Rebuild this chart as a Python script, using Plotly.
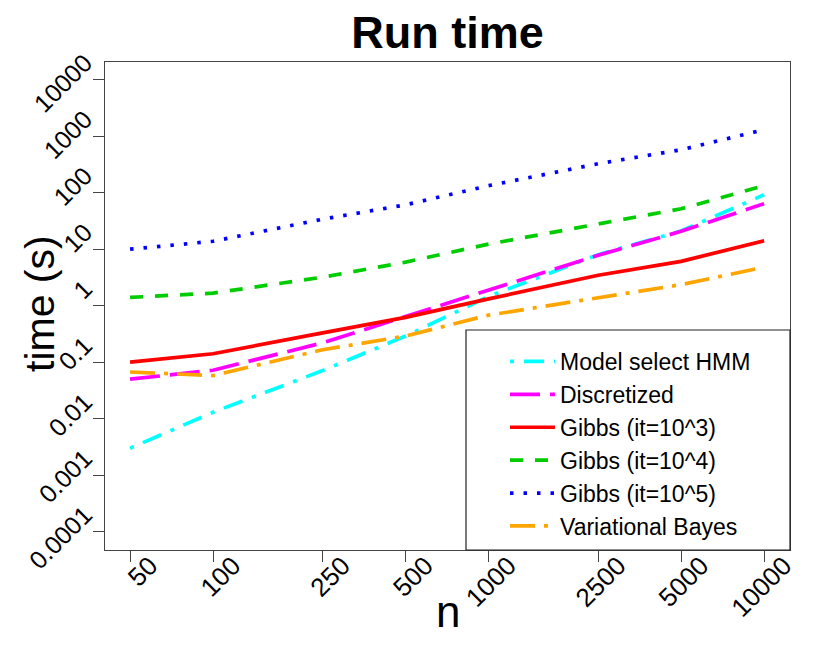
import plotly.graph_objects as go

# ---- data ----
n_vals = [50, 100, 250, 500, 1000, 2500, 5000, 10000]
x_tick_labels = ["50", "100", "250", "500", "1000", "2500", "5000", "10000"]
y_tick_vals = [1e-4, 1e-3, 1e-2, 1e-1, 1, 10, 100, 1000, 10000]
y_tick_labels = ["0.0001", "0.001", "0.01", "0.1", "1", "10", "100", "1000", "10000"]

model_select_hmm = [0.003, 0.013, 0.071, 0.29, 1.46, 8.0, 21, 92]
discretized = [0.05, 0.072, 0.22, 0.65, 1.9, 7.8, 20.7, 64]
gibbs_1e3 = [0.1, 0.141, 0.33, 0.62, 1.32, 3.45, 6.1, 14.1]
gibbs_1e4 = [1.4, 1.67, 3.2, 5.9, 12.3, 27.9, 52, 133]
gibbs_1e5 = [10, 13.8, 34, 61, 133, 326, 575, 1300]
variational_bayes = [0.067, 0.058, 0.166, 0.29, 0.68, 1.37, 2.36, 4.8]

series = [
    ("Model select HMM", model_select_hmm, "#00FFFF", "4px,10px,20px,10px"),
    ("Discretized", discretized, "#FF00FF", "30px,10px"),
    ("Gibbs (it=10^3)", gibbs_1e3, "#FF0000", "solid"),
    ("Gibbs (it=10^4)", gibbs_1e4, "#00CD00", "13px,12px"),
    ("Gibbs (it=10^5)", gibbs_1e5, "#0000FF", "3.5px,10px"),
    ("Variational Bayes", variational_bayes, "#FFA500", "25px,9px,4px,9px"),
]

fig = go.Figure()
for name, vals, color, dash in series:
    fig.add_trace(go.Scatter(
        x=n_vals, y=vals, name=name, mode="lines",
        line=dict(color=color, width=3.7, dash=dash),
    ))

FONT = "Liberation Sans, Arial, Helvetica, sans-serif"
L, R, T, B = 105, 40, 62, 105
PW, PH = 830 - L - R, 655 - T - B

fig.update_layout(
    width=830, height=655,
    margin=dict(l=L, r=R, t=T, b=B, autoexpand=False),
    paper_bgcolor="white", plot_bgcolor="white",
    font=dict(family=FONT, color="black"),
    title=dict(text="<b>Run time</b>", x=0.5, xref="paper", xanchor="center",
               y=1 - 32 / 655, yanchor="middle", yref="container",
               font=dict(size=45, family=FONT, color="black")),
    showlegend=True,
    legend=dict(x=(505 - L) / PW, y=(550 - 340) / PH, xanchor="left", yanchor="top",
                bgcolor="rgba(0,0,0,0)", borderwidth=0,
                font=dict(size=23, family=FONT, color="black"),
                itemwidth=45, tracegroupgap=0),
    shapes=[dict(type="rect", xref="paper", yref="paper",
                 x0=(466 - L) / PW, x1=1, y0=0, y1=(550 - 330) / PH,
                 line=dict(color="#222222", width=1.2),
                 fillcolor="white", layer="above")],
    annotations=[
        dict(text="n", xref="paper", yref="paper", x=0.5, y=(550 - 611) / PH,
             xanchor="center", yanchor="middle", showarrow=False,
             font=dict(size=44, family=FONT, color="black")),
        dict(text="time (s)", xref="paper", yref="paper", x=(40 - L) / PW, y=(550 - 304) / PH,
             xanchor="center", yanchor="middle", showarrow=False, textangle=-90,
             font=dict(size=41, family=FONT, color="black")),
    ],
)

fig.update_xaxes(
    type="log", range=[1.608, 4.094], automargin=False,
    tickmode="array", tickvals=n_vals, ticktext=x_tick_labels,
    tickangle=-45, ticks="outside", ticklen=11, tickwidth=1.2, tickcolor="#444444",
    tickfont=dict(size=26, family=FONT, color="black"),
    ticklabelshift=20, ticklabelstandoff=-22,
    showgrid=False, zeroline=False,
    showline=True, linecolor="#444444", linewidth=1.2, mirror=True,
)
fig.update_yaxes(
    type="log", range=[-4.324, 4.313], automargin=False,
    tickmode="array", tickvals=y_tick_vals, ticktext=y_tick_labels,
    tickangle=-45, ticks="outside", ticklen=11, tickwidth=1.2, tickcolor="#444444",
    tickfont=dict(size=25, family=FONT, color="black"),
    ticklabelshift=-20, ticklabelstandoff=3,
    showgrid=False, zeroline=False,
    showline=True, linecolor="#444444", linewidth=1.2, mirror=True,
)

fig.write_html("out.html", config={"displayModeBar": False},
               post_script="document.body.style.margin='0px';")
